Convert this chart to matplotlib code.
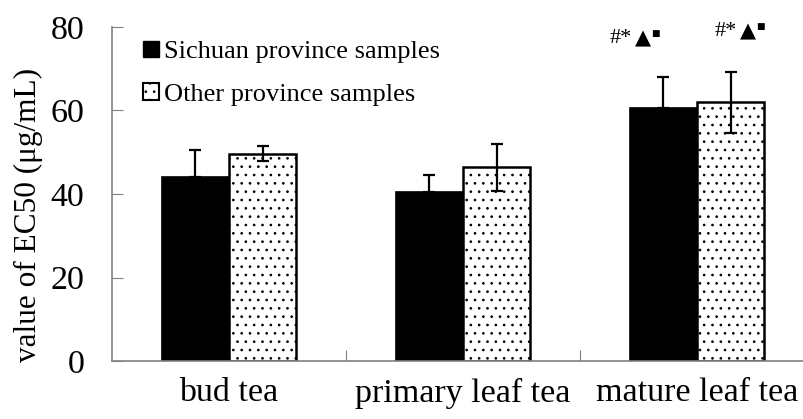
import matplotlib
matplotlib.use("Agg")
import numpy as np
import matplotlib.pyplot as plt
from matplotlib.patches import Patch

# -------------------
# Data
# -------------------
categories = ["bud tea", "primary leaf tea", "mature leaf tea"]
sichuan = [44.0, 40.4, 60.5]
sichuan_err = [6.6, 4.2, 7.6]
other = [49.6, 46.4, 62.0]
other_err = [1.8, 5.6, 7.3]

plt.rcParams["font.family"] = ["Liberation Serif", "DejaVu Sans"]
plt.rcParams["hatch.linewidth"] = 0.7

fig = plt.figure(figsize=(8.04, 4.19), dpi=100)
ax = fig.add_axes([0.1393, 0.1384, 0.8731, 0.7972])

x = np.arange(len(categories))
w = 0.287
gray = "#808080"

ax.bar(x - w / 2, sichuan, w, color="black", edgecolor="black", linewidth=1.2, zorder=2)
ax.bar(x + w / 2, other, w, color="white", edgecolor="black", linewidth=1.8,
       hatch="..", zorder=2)

# one-sided error for the black bars, two-sided for the dotted ones
ax.errorbar(x - w / 2, sichuan, yerr=[np.zeros(3), sichuan_err], fmt="none",
            ecolor="black", elinewidth=1.6, capsize=4, capthick=1.6, zorder=3)
ax.errorbar(x + w / 2, other, yerr=other_err, fmt="none",
            ecolor="black", elinewidth=1.6, capsize=4, capthick=1.6, zorder=3)


# significance marks above mature leaf tea
def sig_mark(x0, y0):
    ax.text(x0, y0, "#*", fontsize=16, ha="left", va="baseline")
    ax.text(x0 + 0.105, y0 - 0.3, "▲", fontsize=15, family="DejaVu Sans",
            ha="left", va="baseline")
    ax.text(x0 + 0.174, y0 + 1.6, "■", fontsize=6.5, family="DejaVu Sans",
            ha="left", va="baseline")


sig_mark(1.628, 76.2)
sig_mark(2.077, 77.8)

ax.set_xlim(-0.5, 2.5)
ax.set_ylim(0, 80)
ax.set_yticks([0, 20, 40, 60, 80])
ax.set_xticks([0.5, 1.5, 2.5])
ax.set_xticklabels([])
ax.set_xticks(x, minor=True)
ax.set_xticklabels(categories, minor=True, fontsize=24.5)
ax.tick_params(axis="x", which="minor", length=0, pad=12)
ax.tick_params(axis="x", which="major", direction="in", length=8, color=gray)
ax.tick_params(axis="y", direction="in", length=8, color=gray, labelsize=24.5, pad=20)

for s in ["top", "right"]:
    ax.spines[s].set_visible(False)
for s in ["left", "bottom"]:
    ax.spines[s].set_color(gray)
    ax.spines[s].set_linewidth(1.2)

ax.set_ylabel("value of EC50 (μg/mL)", fontsize=22.5)
ax.yaxis.set_label_coords(-0.098, 0.437)

handles = [Patch(facecolor="black", edgecolor="black"),
           Patch(facecolor="white", edgecolor="black", linewidth=1.5, hatch="..")]
ax.legend(handles, ["Sichuan province samples", "Other province samples"],
          loc="upper left", bbox_to_anchor=(0.01, 1.03), frameon=False,
          fontsize=19, handlelength=0.6, handleheight=0.6, handletextpad=0.2,
          labelspacing=0.75)

fig.savefig("out.png", dpi=100)
